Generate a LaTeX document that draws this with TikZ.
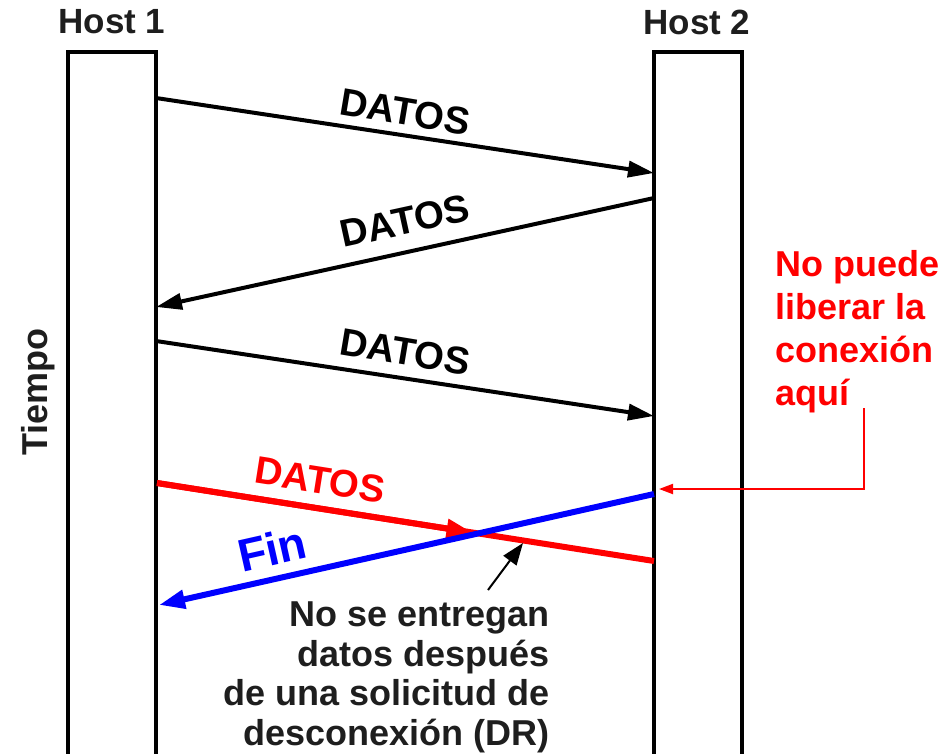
\documentclass[tikz,border=0pt]{standalone}
\usepackage{fontspec}
\setmainfont{Liberation Sans}
\usetikzlibrary{arrows.meta,calc}
\definecolor{txt}{HTML}{1E1E1E}
\definecolor{myred}{HTML}{FF0000}
\definecolor{myblue}{HTML}{0000FF}
\begin{document}
\begin{tikzpicture}[x=1pt,y=-1pt,
  lbl/.style={font=\fontsize{36}{40}\bfseries\selectfont, text=txt, inner sep=0pt},
  dlbl/.style={font=\fontsize{38.5}{40}\bfseries\selectfont, text=black, inner sep=0pt},
  msg/.style={line width=4pt, line cap=butt, -{Triangle[length=26pt,width=16pt]}},
  fat/.style={line width=6pt, -{Triangle[length=26pt,width=18pt]}},
  bar/.style={draw, line width=4pt, minimum width=88pt, minimum height=760pt, outer sep=0pt, inner sep=0pt},
  thinarr/.style={line width=2pt, -{Triangle[length=14pt,width=10pt]}}]
\useasboundingbox (0,0) rectangle (947,753);
% bars
\node[bar, anchor=north] (h1) at (112,52) {};
\node[bar, anchor=north] (h2) at (698,52) {};
\node[lbl, font=\fontsize{35}{40}\bfseries\selectfont] (t1) at (112,22) {Host 1};
\node[lbl, font=\fontsize{35}{40}\bfseries\selectfont] (t2) at (697,22) {Host 2};
\node[lbl, font=\fontsize{36}{40}\bfseries\selectfont, rotate=90] (tiempo) at (38,392) {Tiempo};
% coordinates
\coordinate (a1s) at (156,98);  \coordinate (a1e) at (654,173);
\coordinate (a2s) at (654,198); \coordinate (a2e) at (156,307);
\coordinate (a3s) at (156,341); \coordinate (a3e) at (654,416);
\coordinate (rs) at (157,483);  \coordinate (re) at (654,561);
\coordinate (bs) at (654,494);  \coordinate (be) at (159,605);
% black messages
\draw[msg] (a1s) -- (a1e);
\draw[msg] (a2s) -- (a2e);
\draw[msg] (a3s) -- (a3e);
\node[dlbl, rotate=-9.5] (d1) at (405,112) {DATOS};
\node[dlbl, rotate=12.3] (d2) at (405,221) {DATOS};
\node[dlbl, rotate=-9.5] (d3) at (405,352) {DATOS};
% red data
\draw[myred, line width=6pt] (rs) -- (re);
\draw[myred, fat] (rs) -- ($(rs)!0.635!(re)$);
\node[dlbl, text=myred, rotate=-9] (d4) at (320,480) {DATOS};
% blue fin
\draw[myblue, fat] (bs) -- (be);
\node[lbl, text=myblue, rotate=12.7, font=\fontsize{46}{48}\bfseries\selectfont] (fin) at (272,549) {Fin};
% red annotation
\node[lbl, text=myred, align=left, anchor=north west, font=\fontsize{36}{43}\bfseries\selectfont] (np) at (775,250) {No puede\\liberar la\\conexión\\aquí};
\coordinate (rc) at (864,408);
\coordinate (rt) at (659,489);
\draw[myred, thinarr] (rc) |- (rt);
% black annotation
\node[lbl, align=right, anchor=north east, font=\fontsize{36}{39.5}\bfseries\selectfont] (nd) at (550,602) {No se entregan\\datos después\\de una solicitud de\\desconexión (DR)};
\coordinate (ps) at (488,590);
\coordinate (pe) at (523,543);
\draw[line width=2pt, -{Triangle[length=22pt,width=16pt]}] (ps) -- (pe);
\end{tikzpicture}
\end{document}
